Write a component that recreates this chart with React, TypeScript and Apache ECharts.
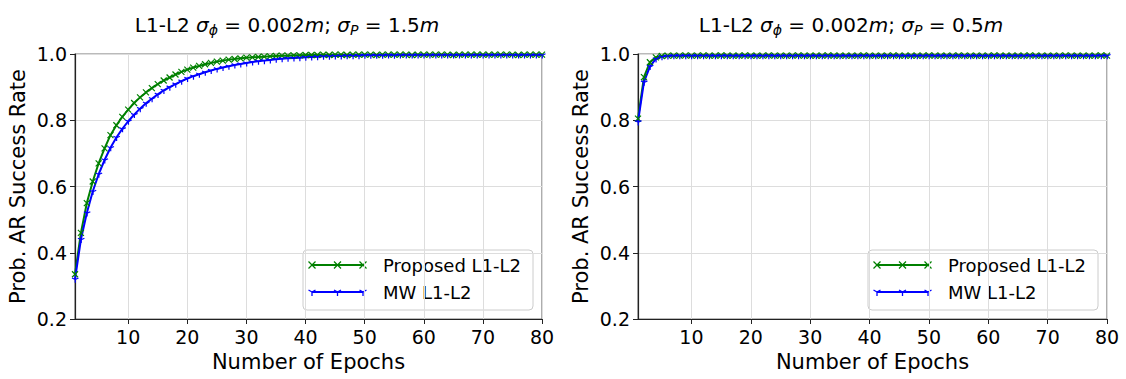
import React, { useEffect, useRef } from "react";
import * as echarts from "echarts";

const epochs = [
  1, 2, 3, 4, 5, 6, 7, 8, 9, 10, 11, 12, 13, 14, 15, 16, 17, 18, 19, 20,
  21, 22, 23, 24, 25, 26, 27, 28, 29, 30, 31, 32, 33, 34, 35, 36, 37, 38, 39, 40,
  41, 42, 43, 44, 45, 46, 47, 48, 49, 50, 51, 52, 53, 54, 55, 56, 57, 58, 59, 60,
  61, 62, 63, 64, 65, 66, 67, 68, 69, 70, 71, 72, 73, 74, 75, 76, 77, 78, 79, 80,
];

const proposedLeft = [
  0.335, 0.46, 0.55, 0.615, 0.67, 0.715, 0.755, 0.785, 0.81, 0.832,
  0.852, 0.869, 0.884, 0.897, 0.909, 0.92, 0.929, 0.938, 0.946, 0.953,
  0.959, 0.964, 0.969, 0.973, 0.977, 0.98, 0.983, 0.985, 0.987, 0.989,
  0.99, 0.991, 0.992, 0.993, 0.994, 0.995, 0.995, 0.996, 0.996, 0.997,
  0.997, 0.997, 0.998, 0.997, 0.998, 0.998, 0.997, 0.998, 0.998, 0.998,
  0.998, 0.997, 0.998, 0.998, 0.998, 0.998, 0.998, 0.997, 0.998, 0.998,
  0.998, 0.998, 0.998, 0.998, 0.997, 0.998, 0.998, 0.998, 0.998, 0.998,
  0.998, 0.998, 0.998, 0.998, 0.998, 0.997, 0.998, 0.998, 0.998, 0.998,
];

const mwLeft = [
  0.32, 0.44, 0.52, 0.585, 0.637, 0.68, 0.717, 0.748, 0.774, 0.797,
  0.817, 0.835, 0.851, 0.865, 0.878, 0.89, 0.9, 0.909, 0.918, 0.926,
  0.933, 0.939, 0.945, 0.95, 0.955, 0.959, 0.963, 0.967, 0.97, 0.973,
  0.976, 0.978, 0.98, 0.982, 0.984, 0.986, 0.987, 0.988, 0.989, 0.99,
  0.991, 0.992, 0.993, 0.993, 0.994, 0.994, 0.995, 0.995, 0.995, 0.996,
  0.996, 0.996, 0.996, 0.997, 0.996, 0.997, 0.997, 0.997, 0.997, 0.997,
  0.997, 0.997, 0.997, 0.997, 0.997, 0.997, 0.997, 0.997, 0.997, 0.997,
  0.997, 0.997, 0.997, 0.997, 0.997, 0.997, 0.997, 0.997, 0.997, 0.997,
];

const proposedRight = [
  0.805, 0.93, 0.975, 0.99, 0.994, 0.995, 0.995, 0.995, 0.996, 0.995,
  0.995, 0.996, 0.995, 0.995, 0.996, 0.995, 0.995, 0.995, 0.996, 0.995,
  0.995, 0.995, 0.996, 0.995, 0.995, 0.995, 0.995, 0.996, 0.995, 0.995,
  0.995, 0.995, 0.996, 0.995, 0.995, 0.995, 0.995, 0.995, 0.996, 0.995,
  0.995, 0.995, 0.995, 0.996, 0.995, 0.995, 0.995, 0.995, 0.995, 0.996,
  0.995, 0.995, 0.995, 0.995, 0.996, 0.995, 0.995, 0.995, 0.995, 0.995,
  0.996, 0.995, 0.995, 0.995, 0.995, 0.995, 0.996, 0.995, 0.995, 0.995,
  0.995, 0.995, 0.996, 0.995, 0.995, 0.995, 0.995, 0.995, 0.996, 0.995,
];

const mwRight = [
  0.795, 0.915, 0.962, 0.985, 0.992, 0.994, 0.995, 0.995, 0.995, 0.995,
  0.995, 0.995, 0.995, 0.995, 0.995, 0.995, 0.995, 0.995, 0.995, 0.995,
  0.995, 0.995, 0.995, 0.995, 0.995, 0.995, 0.995, 0.995, 0.995, 0.995,
  0.995, 0.995, 0.995, 0.995, 0.995, 0.995, 0.995, 0.995, 0.995, 0.995,
  0.995, 0.995, 0.995, 0.995, 0.995, 0.995, 0.995, 0.995, 0.995, 0.995,
  0.995, 0.995, 0.995, 0.995, 0.995, 0.995, 0.995, 0.995, 0.995, 0.995,
  0.995, 0.995, 0.995, 0.995, 0.995, 0.995, 0.995, 0.995, 0.995, 0.995,
  0.995, 0.995, 0.995, 0.995, 0.995, 0.995, 0.995, 0.995, 0.995, 0.995,
];

const seriesNames = ["Proposed L1-L2", "MW L1-L2"];
const titles = [
  "L1-L2 {i|σ}{s|ϕ} = 0.002{i|m}; {i|σ}{s|P} = 1.5{i|m}",
  "L1-L2 {i|σ}{s|ϕ} = 0.002{i|m}; {i|σ}{s|P} = 0.5{i|m}",
];
const xTitle = "Number of Epochs";
const yTitle = "Prob. AR Success Rate";

const FONT = "DejaVu Sans";
const GREEN = "#008000";
const BLUE = "#0000ff";
const X_MARK = "path://M0,0L10,10M10,0L0,10";
const TRI_DOWN = "path://M0,-1M5,5L5,10M5,5L0.67,2.5M5,5L9.33,2.5M5,0";

const grids = [
  { left: 75, top: 54, width: 467, height: 265 },
  { left: 638, top: 54, width: 469, height: 265 },
];
const titleCenters = [282, 846];

function legendGraphic(g: { left: number; width: number }) {
  const right = g.left + g.width - 9;
  const left = right - 230;
  const top = 250;
  const rows = [
    { y: 265, color: GREEN, name: seriesNames[0], kind: "x" },
    { y: 292, color: BLUE, name: seriesNames[1], kind: "tri" },
  ];
  const children: any[] = [
    {
      type: "rect",
      shape: { x: left, y: top, width: 230, height: 60, r: 4 },
      style: { fill: "rgba(255,255,255,0.85)", stroke: "#cccccc", lineWidth: 1 },
    },
  ];
  rows.forEach((r) => {
    const x0 = left + 9;
    const x1 = left + 60;
    children.push({
      type: "line",
      shape: { x1: x0, y1: r.y, x2: x1, y2: r.y },
      style: { stroke: r.color, lineWidth: 2 },
    });
    [x0, (x0 + x1) / 2, x1].forEach((mx) => {
      const h = 3.5;
      if (r.kind === "x") {
        children.push({ type: "line", shape: { x1: mx - h, y1: r.y - h, x2: mx + h, y2: r.y + h }, style: { stroke: r.color, lineWidth: 1.3 } });
        children.push({ type: "line", shape: { x1: mx - h, y1: r.y + h, x2: mx + h, y2: r.y - h }, style: { stroke: r.color, lineWidth: 1.3 } });
      } else {
        children.push({ type: "line", shape: { x1: mx, y1: r.y, x2: mx, y2: r.y + 4 }, style: { stroke: r.color, lineWidth: 1.3 } });
        children.push({ type: "line", shape: { x1: mx, y1: r.y, x2: mx - 3.5, y2: r.y - 2 }, style: { stroke: r.color, lineWidth: 1.3 } });
        children.push({ type: "line", shape: { x1: mx, y1: r.y, x2: mx + 3.5, y2: r.y - 2 }, style: { stroke: r.color, lineWidth: 1.3 } });
      }
    });
    children.push({
      type: "text",
      x: left + 80,
      y: r.y,
      style: {
        text: r.name,
        fontFamily: FONT,
        fontSize: 18,
        fill: "#000",
        verticalAlign: "middle",
        align: "left",
      },
    });
  });
  return { type: "group", silent: true, children };
}

export default function App() {
  const ref = useRef<HTMLDivElement>(null);
  useEffect(() => {
    if (!ref.current) return;
    const chart = echarts.init(ref.current, null, { renderer: "svg" });
    const xAxes = grids.map((_, i) => ({
      type: "value",
      gridIndex: i,
      min: 1,
      max: 80,
      splitNumber: 8,
      name: xTitle,
      nameLocation: "middle",
      nameGap: 32,
      nameTextStyle: { fontFamily: FONT, fontSize: 21, color: "#000" },
      axisLine: { show: true, lineStyle: { color: "#222", width: 1.2 } },
      axisTick: { show: true, inside: false, length: 5, lineStyle: { color: "#222", width: 1 } },
      axisLabel: {
        fontFamily: FONT,
        fontSize: 19,
        color: "#000",
        margin: 8,
        showMinLabel: false,
        formatter: (v: number) => String(v),
      },
      splitLine: { show: true, lineStyle: { color: "#dddddd", width: 1 } },
    }));
    const yAxes = grids.map((_, i) => ({
      type: "value",
      gridIndex: i,
      min: 0.2,
      max: 1.0,
      interval: 0.2,
      name: yTitle,
      nameLocation: "middle",
      nameGap: 47,
      nameTextStyle: { fontFamily: FONT, fontSize: 21, color: "#000" },
      axisLine: { show: true, lineStyle: { color: "#222", width: 1.2 } },
      axisTick: { show: true, inside: false, length: 5, lineStyle: { color: "#222", width: 1 } },
      axisLabel: {
        fontFamily: FONT,
        fontSize: 19,
        color: "#000",
        margin: 8,
        formatter: (v: number) => v.toFixed(1),
      },
      splitLine: { show: true, lineStyle: { color: "#dddddd", width: 1 } },
    }));
    const mk = (name: string, data: number[], gi: number, color: string, symbol: string, size: number) => ({
      type: "line",
      name,
      xAxisIndex: gi,
      yAxisIndex: gi,
      data: epochs.map((e, k) => [e, data[k]]),
      symbol,
      symbolSize: size,
      showSymbol: true,
      lineStyle: { color, width: 2 },
      itemStyle: { color, borderColor: color, borderWidth: 1.2 },
      emphasis: { disabled: true },
    });
    chart.setOption({
      animation: false,
      backgroundColor: "#ffffff",
      title: titles.map((t, i) => ({
        text: t,
        left: titleCenters[i],
        top: 8,
        textAlign: "center",
        textStyle: {
          fontFamily: FONT,
          fontSize: 20,
          fontWeight: "normal",
          color: "#000",
          rich: {
            i: { fontFamily: FONT, fontSize: 20, fontStyle: "italic", color: "#000" },
            s: { fontFamily: FONT, fontSize: 14, fontStyle: "italic", color: "#000", padding: [10, 0, 0, 0] },
          },
        },
      })),
      grid: grids.map((g) => ({
        ...g,
        show: true,
        borderColor: "#777",
        borderWidth: 1.2,
        backgroundColor: "transparent",
        containLabel: false,
      })),
      xAxis: xAxes,
      yAxis: yAxes,
      series: [
        mk(seriesNames[0], proposedLeft, 0, GREEN, X_MARK, 6),
        mk(seriesNames[1], mwLeft, 0, BLUE, TRI_DOWN, 7),
        mk(seriesNames[0], proposedRight, 1, GREEN, X_MARK, 6),
        mk(seriesNames[1], mwRight, 1, BLUE, TRI_DOWN, 7),
      ],
      graphic: grids.map((g) => legendGraphic(g)),
    });
    return () => chart.dispose();
  }, []);
  return (
    <div
      ref={ref}
      style={{ position: "fixed", left: 0, top: 0, width: 1126, height: 379, background: "#fff" }}
    />
  );
}
